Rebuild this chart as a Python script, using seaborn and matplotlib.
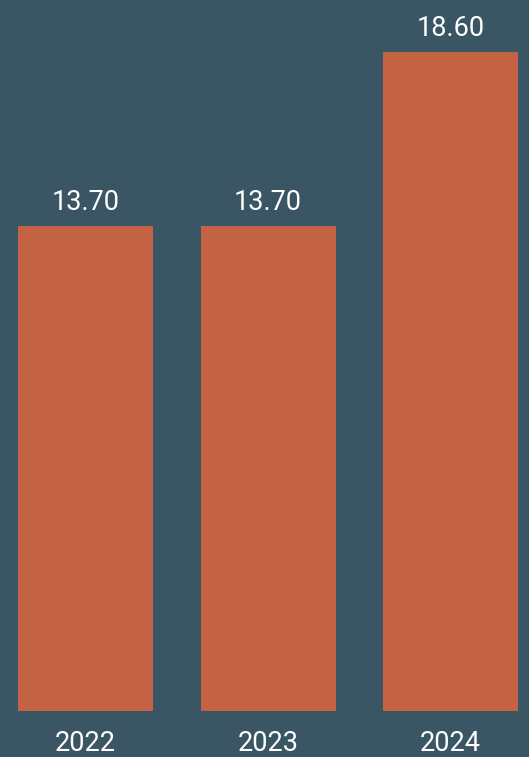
import matplotlib
matplotlib.use("Agg")
import matplotlib.pyplot as plt
import seaborn as sns
import pandas as pd

years = ["2022", "2023", "2024"]
values = [13.70, 13.70, 18.60]

bg = "#3a5563"
bar_color = "#c46343"

sns.set_theme(style="white")
plt.rcParams["font.family"] = ["Roboto", "DejaVu Sans"]

df = pd.DataFrame({"year": years, "value": values})

fig = plt.figure(figsize=(5.29, 7.57), dpi=100, facecolor=bg)
ax = fig.add_axes([0, 0.0612, 1, 0.9388])
ax.set_facecolor(bg)

sns.barplot(data=df, x="year", y="value", color=bar_color, saturation=1,
            width=0.74, linewidth=0, ax=ax)

for patch, v in zip(ax.patches, values):
    ax.annotate(f"{v:.2f}", (patch.get_x() + patch.get_width() / 2, patch.get_height()),
                xytext=(0, 17), textcoords="offset points",
                ha="center", va="center", color="white", fontsize=19.5)

ax.set_xlim(-0.47, 2.43)
ax.set_ylim(0, 20.08)
ax.set_xlabel("")
ax.set_ylabel("")
ax.set_yticks([])
ax.tick_params(axis="x", length=0, pad=14, labelsize=19.5, labelcolor="white")
for s in ax.spines.values():
    s.set_visible(False)

fig.savefig("out.png", dpi=100, facecolor=bg)
